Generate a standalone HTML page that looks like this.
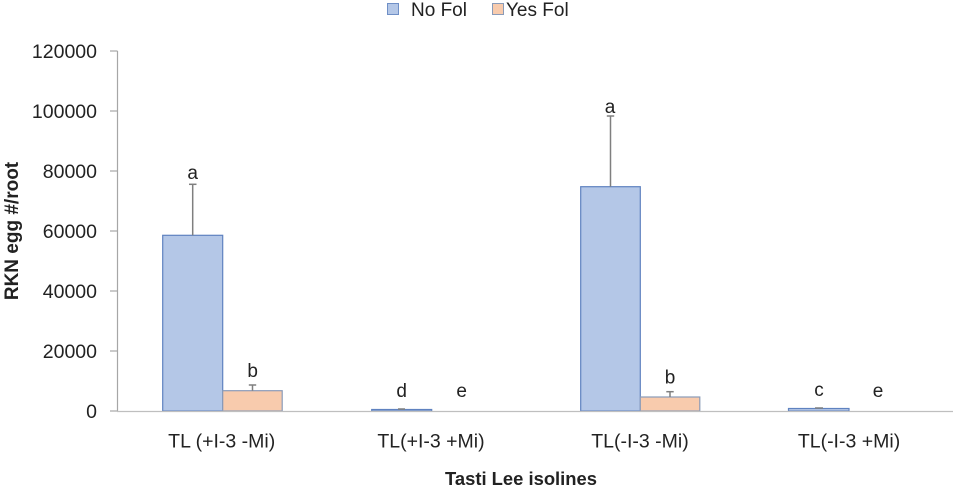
<!DOCTYPE html>
<html><head><meta charset="utf-8"><style>
html,body{margin:0;padding:0;background:#fff;}
svg{display:block;}
text{font-family:"Liberation Sans",Arial,sans-serif;fill:#222;}
</style></head><body>
<svg width="955" height="488" viewBox="0 0 955 488" xmlns="http://www.w3.org/2000/svg">
<!-- legend -->
<rect x="387.5" y="3.5" width="11" height="11" fill="#B4C7E7" stroke="#6F8FC6" stroke-width="1"/>
<text x="411" y="16" font-size="19">No Fol</text>
<rect x="492.5" y="3.5" width="11" height="11" fill="#F8CBAD" stroke="#8A9BB8" stroke-width="1"/>
<text x="506" y="16" font-size="19">Yes Fol</text>

<!-- y axis -->
<line x1="117.5" y1="51" x2="117.5" y2="411.5" stroke="#A6A6A6" stroke-width="1.2"/>
<g stroke="#A6A6A6" stroke-width="1.2">
<line x1="110" y1="51" x2="117.5" y2="51"/>
<line x1="110" y1="111" x2="117.5" y2="111"/>
<line x1="110" y1="171" x2="117.5" y2="171"/>
<line x1="110" y1="231" x2="117.5" y2="231"/>
<line x1="110" y1="291" x2="117.5" y2="291"/>
<line x1="110" y1="351" x2="117.5" y2="351"/>
<line x1="110" y1="411" x2="117.5" y2="411"/>
</g>
<g font-size="19.5" text-anchor="end">
<text x="97" y="58">120000</text>
<text x="97" y="118">100000</text>
<text x="97" y="178">80000</text>
<text x="97" y="238">60000</text>
<text x="97" y="298">40000</text>
<text x="97" y="358">20000</text>
<text x="97" y="418">0</text>
</g>
<text transform="translate(18,231) rotate(-90)" text-anchor="middle" font-size="19" font-weight="bold">RKN egg #/root</text>

<!-- bars -->
<g stroke-width="1.2">
<rect x="162.7" y="235.3" width="60" height="175.7" fill="#B4C7E7" stroke="#5F82C0"/>
<rect x="222.7" y="390.7" width="59.5" height="20.3" fill="#F8CBAD" stroke="#8A9BB8"/>
<rect x="371.7" y="409.5" width="60" height="1.5" fill="#B4C7E7" stroke="#5F82C0"/>
<rect x="580.7" y="186.7" width="59.6" height="224.3" fill="#B4C7E7" stroke="#5F82C0"/>
<rect x="640.3" y="397" width="59.5" height="14" fill="#F8CBAD" stroke="#8A9BB8"/>
<rect x="788.5" y="408.5" width="60.5" height="2.5" fill="#B4C7E7" stroke="#5F82C0"/>
</g>

<!-- baseline -->
<line x1="117" y1="411.5" x2="953" y2="411.5" stroke="#BFBFBF" stroke-width="1.3"/>

<!-- error bars -->
<g stroke="#7F7F7F" stroke-width="1.5">
<line x1="192.7" y1="235.3" x2="192.7" y2="184.3"/><line x1="189" y1="184.3" x2="196.5" y2="184.3"/>
<line x1="252.5" y1="390.7" x2="252.5" y2="385"/><line x1="248.8" y1="385" x2="256.2" y2="385"/>
<line x1="610.5" y1="186.7" x2="610.5" y2="116"/><line x1="606.8" y1="116" x2="614.2" y2="116"/>
<line x1="670" y1="397" x2="670" y2="391.7"/><line x1="666.3" y1="391.7" x2="673.7" y2="391.7"/>
<line x1="398" y1="409" x2="405" y2="409"/>
<line x1="815" y1="408" x2="823" y2="408"/>
</g>

<!-- significance letters -->
<g font-size="19" text-anchor="middle">
<text x="192.7" y="179">a</text>
<text x="252.7" y="377">b</text>
<text x="401.7" y="397">d</text>
<text x="461.7" y="397">e</text>
<text x="610" y="113">a</text>
<text x="670" y="383.5">b</text>
<text x="819" y="396">c</text>
<text x="878" y="397">e</text>
</g>

<!-- category labels -->
<g font-size="19.5" text-anchor="middle">
<text x="221.7" y="447.5">TL (+I-3 -Mi)</text>
<text x="431" y="447.5">TL(+I-3 +Mi)</text>
<text x="640" y="447.5">TL(-I-3 -Mi)</text>
<text x="849" y="447.5">TL(-I-3 +Mi)</text>
</g>
<text x="521" y="485" text-anchor="middle" font-size="18.4" font-weight="bold">Tasti Lee isolines</text>
</svg>
</body></html>
